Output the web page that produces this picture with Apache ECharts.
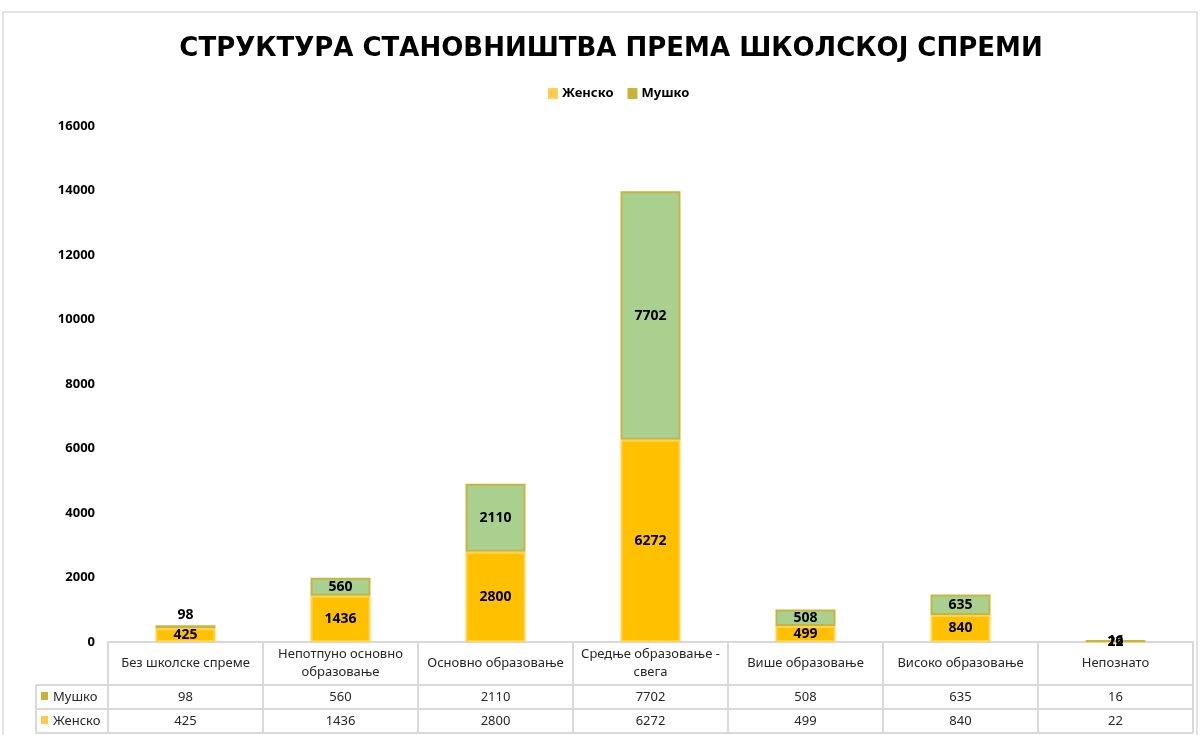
<!DOCTYPE html>
<html>
<head>
<meta charset="utf-8">
<title>Структура становништва према школској спреми</title>
<script src="https://cdn.jsdelivr.net/npm/echarts@6/dist/echarts.min.js"></script>
<style>
  html, body { margin: 0; padding: 0; background: #fff; }
  #chart { width: 1200px; height: 735px; }
</style>
</head>
<body>
<div id="chart"></div>
<script>
// подаци
const categories = ['Без школске спреме', 'Непотпуно основно образовање', 'Основно образовање',
  'Средње образовање - свега', 'Више образовање', 'Високо образовање', 'Непознато'];
const female = [425, 1436, 2800, 6272, 499, 840, 22]; // Женско
const male = [98, 560, 2110, 7702, 508, 635, 16]; // Мушко
const yTicks = [0, 2000, 4000, 6000, 8000, 10000, 12000, 14000, 16000];

const FONT = '"Noto Sans", "DejaVu Sans", sans-serif';
const LINE = '#D9D9D9';
// табела испод графикона
const gridLeft = 108;
const gridRight = 1193;
const axisY = 642;
const rowY = [685, 709, 733];

const chart = echarts.init(document.getElementById('chart'));

function wrapName(name) {
  if (name.length <= 20) return name;
  const i = name.lastIndexOf(' ', 20);
  return name.slice(0, i) + '\n' + name.slice(i + 1);
}

const tableLines = [];
rowY.forEach(y => {
  tableLines.push({ type: 'line', shape: { x1: 36, y1: y, x2: gridRight, y2: y }, style: { stroke: LINE, lineWidth: 2 } });
});
tableLines.push({ type: 'line', shape: { x1: 36, y1: rowY[0], x2: 36, y2: rowY[2] }, style: { stroke: LINE, lineWidth: 2 } });

chart.setOption({
  backgroundColor: '#fff',
  animation: false,
  title: {
    text: 'СТРУКТУРА СТАНОВНИШТВА ПРЕМА ШКОЛСКОЈ СПРЕМИ',
    left: 606,
    textAlign: 'center',
    top: 31,
    textStyle: { fontFamily: '"DejaVu Sans", sans-serif', fontSize: 26, fontWeight: 'bold', color: '#000' }
  },
  legend: {
    top: 82,
    left: 543,
    itemWidth: 8,
    itemHeight: 9,
    itemGap: 14,
    icon: 'rect',
    textStyle: { fontFamily: FONT, fontSize: 13, fontWeight: 'bold', color: '#000' },
    data: [
      { name: 'Женско', itemStyle: { color: '#FFC84A' } },
      { name: 'Мушко', itemStyle: { color: '#C9B22F' } }
    ]
  },
  grid: { left: gridLeft, right: 1200 - gridRight, top: 126, bottom: 735 - axisY, containLabel: false },
  xAxis: [{
    type: 'category',
    data: categories,
    axisLine: { show: true, lineStyle: { color: LINE, width: 2 } },
    axisTick: { show: true, length: rowY[2] - axisY, lineStyle: { color: LINE, width: 2 } },
    axisLabel: {
      interval: 0,
      margin: 21,
      verticalAlign: 'middle',
      lineHeight: 18,
      fontFamily: FONT,
      fontSize: 13,
      color: '#262626',
      formatter: wrapName
    }
  }, {
    type: 'category',
    position: 'bottom',
    offset: 55,
    data: male.map(String),
    axisLine: { show: false },
    axisTick: { show: false },
    axisLabel: { interval: 0, margin: 0, verticalAlign: 'middle', fontFamily: FONT, fontSize: 13, color: '#262626' }
  }, {
    type: 'category',
    position: 'bottom',
    offset: 79,
    data: female.map(String),
    axisLine: { show: false },
    axisTick: { show: false },
    axisLabel: { interval: 0, margin: 0, verticalAlign: 'middle', fontFamily: FONT, fontSize: 13, color: '#262626' }
  }],
  yAxis: {
    type: 'value',
    min: yTicks[0],
    max: yTicks[yTicks.length - 1],
    interval: yTicks[1] - yTicks[0],
    axisLine: { show: false },
    axisTick: { show: false },
    splitLine: { show: false },
    axisLabel: {
      margin: 13,
      fontFamily: FONT,
      fontSize: 13,
      fontWeight: 'bold',
      color: '#000',
      formatter: v => String(v)
    }
  },
  series: [{
    name: 'Женско',
    type: 'bar',
    stack: 'total',
    barWidth: 60,
    itemStyle: { color: '#FFC000', borderColor: '#FFD34F', borderWidth: 2 },
    label: {
      show: true,
      position: 'inside',
      fontFamily: FONT,
      fontSize: 14,
      fontWeight: 'bold',
      color: '#000'
    },
    data: female
  }, {
    name: 'Мушко',
    type: 'bar',
    stack: 'total',
    barWidth: 60,
    itemStyle: { color: '#A9D08E', borderColor: '#C8B53E', borderWidth: 2 },
    label: {
      show: true,
      position: 'inside',
      fontFamily: FONT,
      fontSize: 14,
      fontWeight: 'bold',
      color: '#000'
    },
    // мали сегмент: ознака изнад стубића
    data: male.map((v, i) => i === 0 ? { value: v, label: { position: 'top', distance: 3 } } : v)
  }],
  graphic: [
    { type: 'rect', shape: { x: 3, y: 12, width: 1194, height: 740 }, style: { fill: 'none', stroke: '#D9D9D9', lineWidth: 1.5 }, z: -1 },
    ...tableLines,
    { type: 'rect', shape: { x: 41, y: 692, width: 7, height: 8 }, style: { fill: '#C9B22F' } },
    { type: 'text', x: 53, y: 697, style: { text: 'Мушко', fontFamily: FONT, fontSize: 13, fill: '#262626', verticalAlign: 'middle' } },
    { type: 'rect', shape: { x: 41, y: 716, width: 7, height: 8 }, style: { fill: '#FFC84A' } },
    { type: 'text', x: 53, y: 721, style: { text: 'Женско', fontFamily: FONT, fontSize: 13, fill: '#262626', verticalAlign: 'middle' } }
  ]
});
</script>
</body>
</html>
